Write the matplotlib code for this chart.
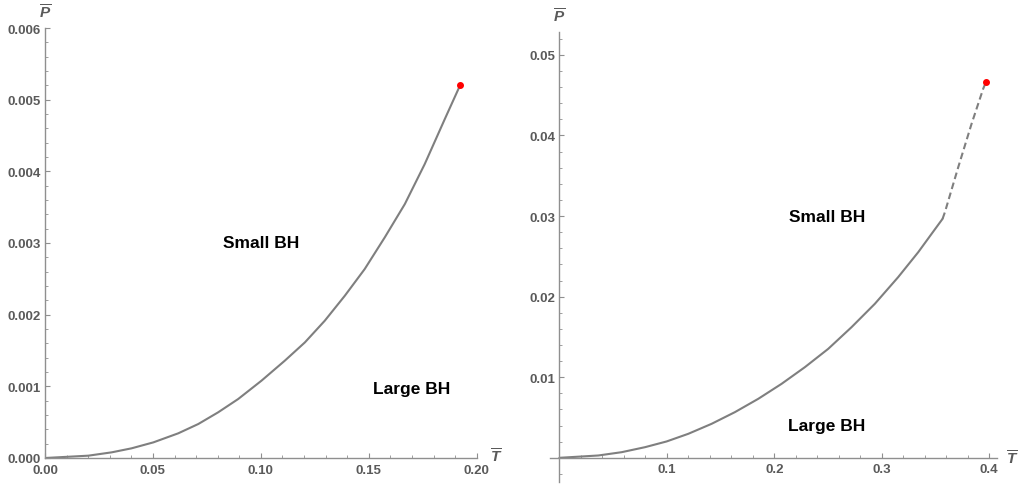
import matplotlib
matplotlib.use("Agg")
import matplotlib.pyplot as plt
from matplotlib.ticker import MultipleLocator, FixedLocator

# ---- data ----
left_T = [0.0, 0.0201, 0.0309, 0.0401, 0.0502, 0.0617, 0.0710, 0.0802, 0.0895, 0.1003,
          0.1111, 0.1204, 0.1296, 0.1389, 0.1481, 0.1574, 0.1667, 0.1759, 0.1852, 0.1924]
left_P = [0.0, 0.0000325, 0.000079, 0.000135, 0.000218, 0.000344, 0.000474, 0.000637,
          0.000823, 0.001079, 0.001358, 0.001613, 0.001915, 0.002264, 0.002636, 0.003078,
          0.003543, 0.004100, 0.004728, 0.005207]
left_crit = (0.1924, 0.005207)

right_T_solid = [0.0, 0.0363, 0.0580, 0.0797, 0.0998, 0.1200, 0.1417, 0.1634, 0.1851,
                 0.2068, 0.2285, 0.2502, 0.2719, 0.2936, 0.3153, 0.3340, 0.3464, 0.3566]
right_P_solid = [0.0, 0.00029, 0.00070, 0.00132, 0.00203, 0.00298, 0.00422, 0.00567,
                 0.00732, 0.00918, 0.01125, 0.01352, 0.01621, 0.01911, 0.02242, 0.02552,
                 0.02779, 0.02965]
right_T_dash = [0.3566, 0.3588, 0.3712, 0.3836, 0.3944, 0.3969]
right_P_dash = [0.02965, 0.03048, 0.03606, 0.04144, 0.04578, 0.04661]
right_crit = (0.3969, 0.04661)

left_xticks = [0.00, 0.05, 0.10, 0.15, 0.20]
left_xticklabels = ["0.00", "0.05", "0.10", "0.15", "0.20"]
left_yticks = [0.000, 0.001, 0.002, 0.003, 0.004, 0.005, 0.006]
left_yticklabels = ["0.000", "0.001", "0.002", "0.003", "0.004", "0.005", "0.006"]
right_xticks = [0.1, 0.2, 0.3, 0.4]
right_xticklabels = ["0.1", "0.2", "0.3", "0.4"]
right_yticks = [0.01, 0.02, 0.03, 0.04, 0.05]
right_yticklabels = ["0.01", "0.02", "0.03", "0.04", "0.05"]

left_labels = [("Small BH", 0.10, 0.0030), ("Large BH", 0.17, 0.00097)]
right_labels = [("Small BH", 0.249, 0.0300), ("Large BH", 0.249, 0.0040)]

plt.rcParams['font.family'] = ['Liberation Sans', 'DejaVu Sans']
plt.rcParams['mathtext.fontset'] = 'custom'
plt.rcParams['mathtext.it'] = 'Liberation Sans:italic:bold'
plt.rcParams['mathtext.rm'] = 'Liberation Sans:bold'

W, H = 1019, 485
fig = plt.figure(figsize=(W / 100, H / 100), dpi=100)

axis_col = '#8f8f8f'
tick_col = '#5a5a5a'
curve_col = '#7f7f7f'

def style(ax):
    for s in ['top', 'right']:
        ax.spines[s].set_visible(False)
    for s in ['left', 'bottom']:
        ax.spines[s].set_color(axis_col)
        ax.spines[s].set_linewidth(1.0)
    ax.tick_params(which='major', direction='in', length=3.5, width=0.8, color=axis_col,
                   labelsize=9.5, labelcolor=tick_col)
    ax.tick_params(axis='x', which='major', pad=4)
    ax.tick_params(axis='y', which='major', pad=3)
    ax.tick_params(which='minor', direction='in', length=2.0, width=0.6, color=axis_col)
    for lab in ax.get_xticklabels() + ax.get_yticklabels():
        lab.set_fontweight('bold')

# ---- left panel ----
ax1 = fig.add_axes([45 / W, (H - 459) / H, 431.7 / W, 430 / H])
ax1.set_xlim(0, 0.2)
ax1.set_ylim(0, 0.006)
ax1.plot(left_T, left_P, color=curve_col, lw=1.5, solid_capstyle='round',
         solid_joinstyle='round')
ax1.plot([left_crit[0]], [left_crit[1]], 'o', color='red', ms=4, zorder=5)
ax1.xaxis.set_major_locator(FixedLocator(left_xticks))
ax1.set_xticklabels(left_xticklabels)
ax1.yaxis.set_major_locator(FixedLocator(left_yticks))
ax1.set_yticklabels(left_yticklabels)
ax1.xaxis.set_minor_locator(MultipleLocator(0.01))
ax1.yaxis.set_minor_locator(MultipleLocator(0.0002))
style(ax1)
for t, x, y in left_labels:
    ax1.text(x, y, t, ha='center', va='center', fontsize=12.5, fontweight='bold', color='black')
ax1.text(1.03, 0.005, r'$\overline{T}$', transform=ax1.transAxes, ha='left', va='center',
         fontsize=11, color=tick_col)
ax1.text(0.0, 1.037, r'$\overline{P}$', transform=ax1.transAxes, ha='center', va='center',
         fontsize=11, color=tick_col)

# ---- right panel ----
ax2 = fig.add_axes([550 / W, (H - 483) / H, 446.7 / W, 449.7 / H])
ax2.set_xlim(-0.0087, 0.407)
ax2.set_ylim(-0.003, 0.0528)
ax2.spines['left'].set_position(('data', 0))
ax2.spines['bottom'].set_position(('data', 0))
ax2.plot(right_T_solid, right_P_solid, color=curve_col, lw=1.5, solid_capstyle='round',
         solid_joinstyle='round')
ax2.plot(right_T_dash, right_P_dash, color=curve_col, lw=1.5, ls=(0, (3.2, 1.8)))
ax2.plot([right_crit[0]], [right_crit[1]], 'o', color='red', ms=4, zorder=5)
ax2.xaxis.set_major_locator(FixedLocator(right_xticks))
ax2.set_xticklabels(right_xticklabels)
ax2.yaxis.set_major_locator(FixedLocator(right_yticks))
ax2.set_yticklabels(right_yticklabels)
ax2.xaxis.set_minor_locator(FixedLocator([0.02, 0.04, 0.06, 0.08, 0.12, 0.14, 0.16, 0.18,
                                          0.22, 0.24, 0.26, 0.28, 0.32, 0.34, 0.36, 0.38]))
ax2.yaxis.set_minor_locator(FixedLocator([-0.002, 0.002, 0.004, 0.006, 0.008, 0.012, 0.014,
                                          0.016, 0.018, 0.022, 0.024, 0.026, 0.028, 0.032,
                                          0.034, 0.036, 0.038, 0.042, 0.044, 0.046, 0.048,
                                          0.052]))
style(ax2)
for t, x, y in right_labels:
    ax2.text(x, y, t, ha='center', va='center', fontsize=12.5, fontweight='bold', color='black')
ax2.text(1.02, 0.0, r'$\overline{T}$', transform=ax2.get_yaxis_transform(), ha='left',
         va='center', fontsize=11, color=tick_col)
ax2.text(0.0, 1.036, r'$\overline{P}$', transform=ax2.get_xaxis_transform(), ha='center',
         va='center', fontsize=11, color=tick_col)

fig.savefig('out.png', dpi=100)
